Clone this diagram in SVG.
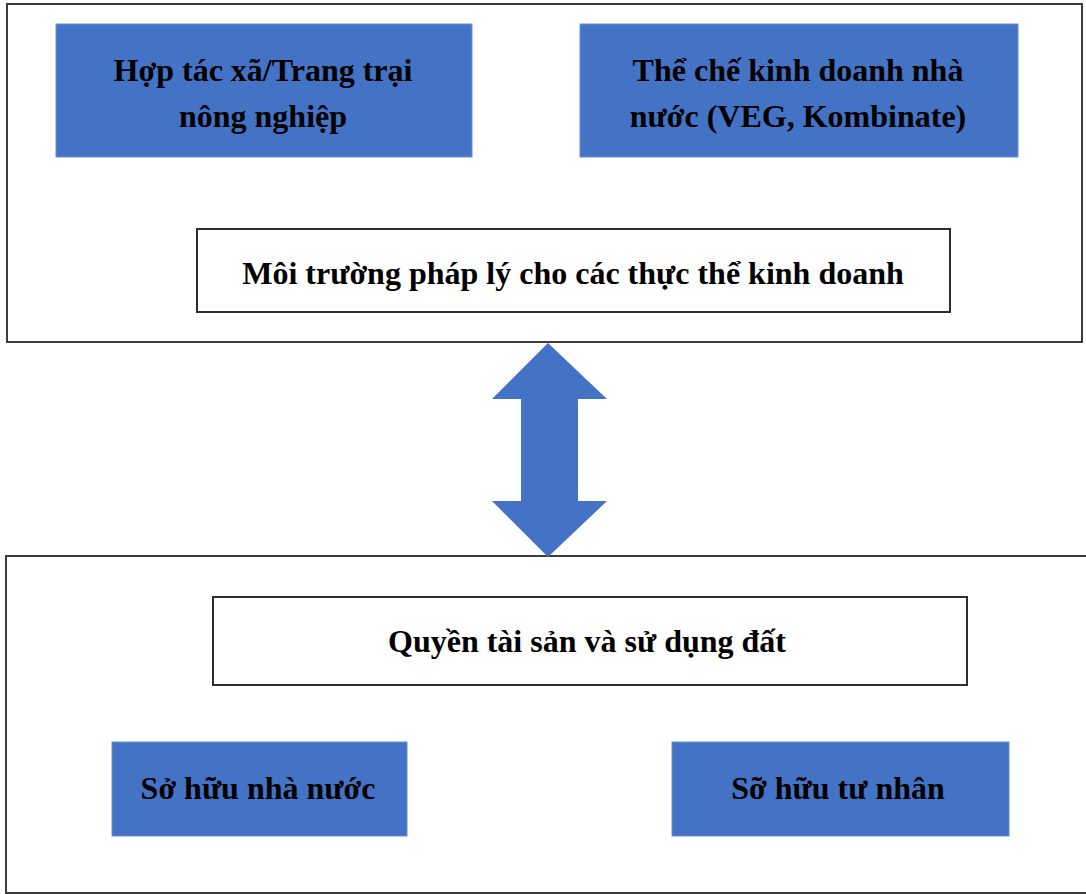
<svg xmlns="http://www.w3.org/2000/svg" width="1086" height="894" viewBox="0 0 1086 894">
<style>
.frame{fill:#fff;stroke:#3c3c3c;stroke-width:2}
.blue{fill:#4472C4;stroke:#6a8fd0;stroke-width:1}
.white{fill:#fff;stroke:#2e2e2e;stroke-width:2}
.t{font-family:"Liberation Serif","Times New Roman",serif;font-weight:bold;font-size:32px;fill:#000;text-anchor:middle}
</style>
<rect width="1086" height="894" fill="#fff"/>
<g id="top-frame"><rect class="frame" x="7" y="4" width="1075" height="338"/></g>
<g id="bottom-frame"><rect class="frame" x="6" y="556" width="1090" height="337"/></g>
<g id="hop-tac-xa">
<rect class="blue" x="56" y="24" width="416" height="133"/>
<text class="t" x="263" y="81">Hợp tác xã/Trang trại</text>
<text class="t" x="263" y="127">nông nghiệp</text>
</g>
<g id="the-che">
<rect class="blue" x="580" y="24" width="438" height="133"/>
<text class="t" x="798" y="81">Thể chế kinh doanh nhà</text>
<text class="t" x="798" y="127">nước (VEG, Kombinate)</text>
</g>
<g id="moi-truong">
<rect class="white" x="197" y="229" width="753" height="83"/>
<text class="t" x="573" y="284">Môi trường pháp lý cho các thực thể kinh doanh</text>
</g>
<g id="connectors">
<polygon fill="#4472C4" points="548,343 607,399 578,399 578,501 607,501 548,557 492,501 521,501 521,399 492,399"/>
</g>
<g id="quyen">
<rect class="white" x="213" y="597" width="754" height="88"/>
<text class="t" x="587" y="652">Quyền tài sản và sử dụng đất</text>
</g>
<g id="so-huu-nha-nuoc">
<rect class="blue" x="112" y="742" width="295" height="94"/>
<text class="t" x="258" y="799">Sở hữu nhà nước</text>
</g>
<g id="so-huu-tu-nhan">
<rect class="blue" x="672" y="742" width="337" height="94"/>
<text class="t" x="838" y="799">Sỡ hữu tư nhân</text>
</g>
</svg>
